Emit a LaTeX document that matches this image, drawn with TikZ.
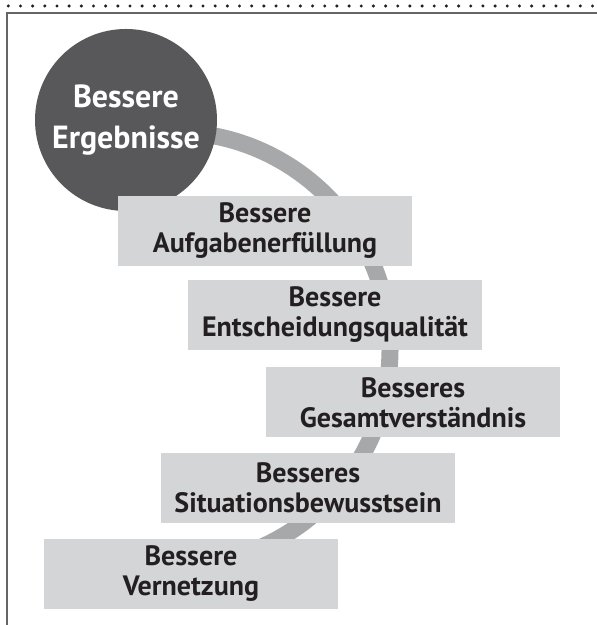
\documentclass[tikz,border=0pt]{standalone}
\usepackage{fontspec}
\setmainfont{PT Sans}
\usetikzlibrary{positioning}
\definecolor{kreisgrau}{RGB}{88,88,90}
\definecolor{boxgrau}{RGB}{212,213,214}
\definecolor{bogengrau}{RGB}{167,168,170}
\definecolor{rahmengrau}{RGB}{100,101,103}
\definecolor{textschwarz}{RGB}{35,31,32}
\newcommand{\stufe}[4]{%
  \node[stufenbox] (#1) at (#2,#3) {#4};
}

\begin{document}
\begin{tikzpicture}[x=.5pt,y=.5pt,
    stufenbox/.style={fill=boxgrau,minimum width=147pt,minimum height=35pt,
      inner sep=0pt,align=center,text=textschwarz,
      font=\bfseries\fontsize{14}{15}\selectfont},
    ziel/.style={circle,fill=kreisgrau,minimum size=91pt,inner sep=0pt,
      align=center,text=white,font=\bfseries\fontsize{16}{20.5}\selectfont},
    bogen/.style={draw=bogengrau,line width=8.5pt},
    rahmen/.style={draw=rahmengrau,line width=1pt}]
  \useasboundingbox (0,0) rectangle (597,625);
  % Rahmen oben und links
  \foreach \k in {0,...,48}{\fill[textschwarz] (8.3+12.17*\k,619) circle[radius=1.7];}
  \draw[rahmen] (597,612.3) -| (7,0);
  % Bogen hinter den Stufen
  \coordinate (mitte) at (173,276);
  \draw[bogen] ([shift={(95:217)}]mitte) arc[start angle=95,end angle=-80,radius=217];
  \node[ziel] (erg) at (126,505) {Bessere\\Ergebnisse};
  \stufe{aufg}{265}{394}{Bessere\\Aufgabenerfüllung}
  \stufe{ents}{335}{310}{Bessere\\Entscheidungsqualität}
  \stufe{gesamt}{413}{222.5}{Besseres\\Gesamtverständnis}
  \stufe{sit}{308}{137}{Besseres\\Situationsbewusstsein}
  \stufe{netz}{191}{51}{Bessere\\Vernetzung}
\end{tikzpicture}
\end{document}
